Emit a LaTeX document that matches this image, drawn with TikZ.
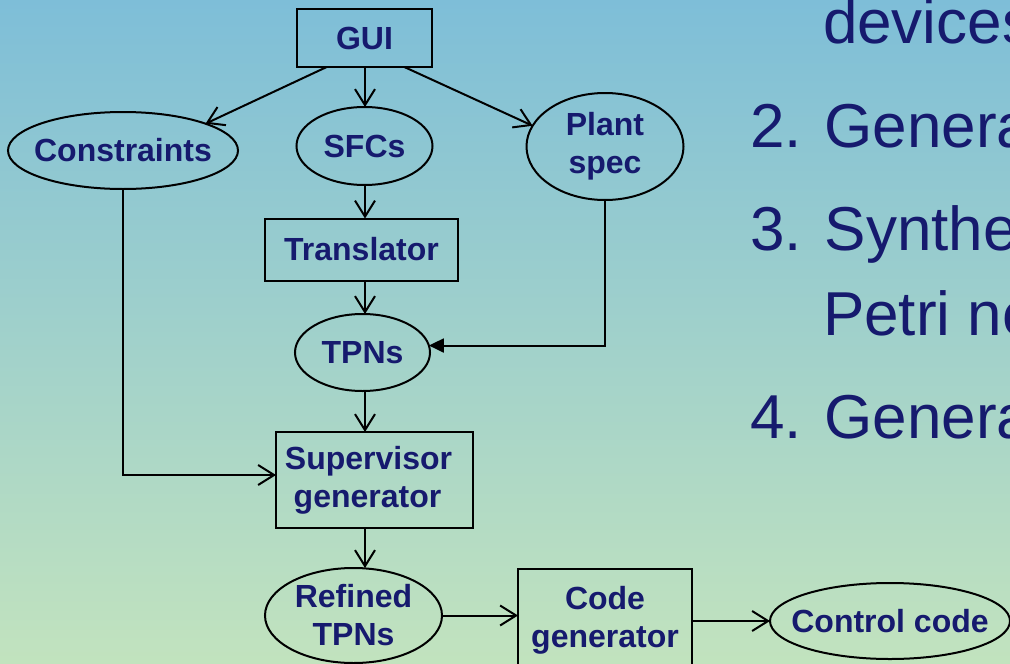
\documentclass[tikz,border=0pt]{standalone}
\usepackage{fontspec}
\setmainfont{Liberation Sans}
\usetikzlibrary{shapes.geometric,arrows.meta,calc}
\definecolor{navy}{RGB}{22,26,110}
\definecolor{bgtop}{RGB}{126,190,216}
\definecolor{bgmid}{RGB}{142,209,218}
\definecolor{bgbot}{RGB}{194,227,190}
\newcommand{\zw}[1]{\makebox[0pt]{#1}}
\begin{document}
\begin{tikzpicture}[x=1pt,y=-1pt,
  lbl/.style={font=\fontsize{32}{38}\selectfont\bfseries, text=navy, align=center, inner sep=0pt, outer sep=0pt},
  box/.style={lbl, draw=black, line width=2pt, rectangle},
  ell/.style={lbl, draw=black, line width=2pt, ellipse},
  arr/.style={draw=black, line width=2pt, -{Straight Barb[length=16pt,width=20pt]}},
  farr/.style={draw=black, line width=2pt, -{Triangle[length=15pt,width=14pt]}},
  rt/.style={font=\fontsize{62}{70}\selectfont, text=navy, anchor=base west, inner sep=0pt, outer sep=0pt}]
\useasboundingbox (0,0) rectangle (1010,664);
\clip (0,0) rectangle (1010,664);
\shade[top color=bgtop, middle color=bgmid, bottom color=bgbot] (0,0) rectangle (1010,664);

% nodes
\node[box, minimum width=135, minimum height=58] (gui) at (364.5,38) {GUI};
\node[ell, minimum width=230, minimum height=77] (con) at (123,150.5) {\zw{Constraints}};
\node[ell, minimum width=136, minimum height=78] (sfc) at (364.5,146) {\zw{SFCs}};
\node[ell, minimum width=157, minimum height=107] (plant) at (605,146.5) {\zw{Plant}\\\zw{spec}};
\node[box, minimum width=193, minimum height=62] (tr) at (361.5,249.5) {Translator};
\node[ell, minimum width=135, minimum height=77] (tpn) at (362.5,352.5) {\zw{TPNs}};
\node[box, minimum width=197, minimum height=96] (sup) at (374.5,480) {\zw{Supervisor\hspace{12pt}}\\\zw{generator\hspace{14pt}}};
\node[ell, minimum width=177, minimum height=95] (ref) at (353.5,615.5) {\zw{Refined}\\\zw{TPNs}};
\node[box, minimum width=174, minimum height=102] (code) at (605,620) {Code\\generator};
\node[ell, minimum width=240, minimum height=76] (ctl) at (890,621) {\zw{Control code}};

% connectors
\draw[arr] ($(gui.south west)!0.22!(gui.south east)$) -- (con.18);
\draw[arr] (gui.south -| 365,0) -- (sfc.north -| 365,0);
\draw[arr] ($(gui.south west)!0.795!(gui.south east)$) -- (plant.164);
\draw[arr] (sfc.south -| 365,0) -- (tr.north -| 365,0);
\draw[arr] (tr.south -| 365,0) -- (tpn.north -| 365,0);
\draw[farr] (plant.south) |- (tpn.6.5);
\draw[arr] (tpn.south -| 365,0) -- (sup.north -| 365,0);
\draw[arr] (con.south) |- ([yshift=5pt]sup.west);
\draw[arr] (sup.south -| 365,0) -- (ref.north -| 365,0);
\draw[arr] (ref.east) -- (ref.east -| code.west);
\draw[arr] (code.east |- ctl.west) -- (ctl.west);

% right-hand text
\node[rt] (t1) at (823,43) {devices};
\node[rt] (t2) at (750,147) {2. Genera};
\node[rt] (t3) at (750,250) {3. Synthe};
\node[rt] (t4) at (823,335) {Petri ne};
\node[rt] (t5) at (750,438) {4. Genera};
\end{tikzpicture}
\end{document}
